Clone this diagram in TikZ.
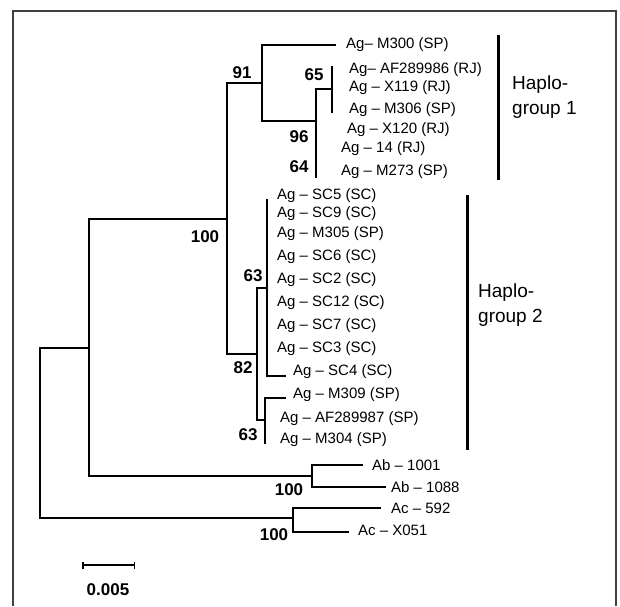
\documentclass[tikz,border=0pt]{standalone}
\usepackage{fontspec}
\setmainfont{Liberation Sans}
\usetikzlibrary{arrows.meta}
\begin{document}
\begin{tikzpicture}[x=1pt,y=-1pt,
  br/.style={line width=2.5pt,line cap=rect},
  leaf/.style={anchor=west,inner sep=0pt,font=\fontsize{15}{16}\selectfont},
  boot/.style={inner sep=0pt,font=\fontsize{17}{19}\selectfont\bfseries},
  grp/.style={anchor=west,inner sep=0pt,align=left,font=\fontsize{19}{25}\selectfont},
  bar/.style={line width=3pt},
  frame/.style={line width=2pt,draw=black!75}]
\useasboundingbox (0,0) rectangle (620,606);
\draw[frame] (13,606) -- (13,11) -- (616,11) -- (616,606);
% internal nodes
\coordinate (root) at (40,433);
\coordinate (nA) at (89,348);
\coordinate (nAg) at (227,219);
\coordinate (n91) at (262,83);
\coordinate (n96) at (316,121);
\coordinate (n65) at (332,89);
\coordinate (nH2) at (257,354);
\coordinate (n63a) at (267,288);
\coordinate (n63b) at (265,420);
\coordinate (nAb) at (312,476);
\coordinate (nAc) at (293,518);
% leaf ends
\coordinate (lM300) at (335,45);
\coordinate (lAF86) at (332,67);
\coordinate (lX119) at (332,89);
\coordinate (lM306) at (332,112);
\coordinate (lX120) at (316,130);
\coordinate (l14) at (316,152);
\coordinate (lM273) at (316,177);
\coordinate (lSC5) at (267,200);
\coordinate (lSC3) at (267,350);
\coordinate (lSC4) at (285,376);
\coordinate (lM309) at (285,398);
\coordinate (lAF87) at (265,419);
\coordinate (lM304) at (265,443);
\coordinate (lAb1) at (362,465);
\coordinate (lAb2) at (385,487);
\coordinate (lAc1) at (380,508);
\coordinate (lAc2) at (348,532);
% branches
\draw[br] (root) |- (nA);
\draw[br] (root) |- (nAc);
\draw[br] (nA) |- (nAg);
\draw[br] (nA) |- (nAb);
\draw[br] (nAg) |- (n91);
\draw[br] (nAg) |- (nH2);
\draw[br] (n91) |- (lM300);
\draw[br] (n91) |- (n96);
\draw[br] (n96) |- (n65);
\draw[br] (n96) |- (lX120);
\draw[br] (n96) |- (l14);
\draw[br] (n96) |- (lM273);
\draw[br] (n65) |- (lAF86);
\draw[br] (n65) |- (lX119);
\draw[br] (n65) |- (lM306);
\draw[br] (nH2) |- (n63a);
\draw[br] (nH2) |- (n63b);
\draw[br] (n63a) |- (lSC5);
\draw[br] (n63a) |- (lSC3);
\draw[br] (n63a) |- (lSC4);
\draw[br] (n63b) |- (lM309);
\draw[br] (n63b) |- (lAF87);
\draw[br] (n63b) |- (lM304);
\draw[br] (nAb) |- (lAb1);
\draw[br] (nAb) |- (lAb2);
\draw[br] (nAc) |- (lAc1);
\draw[br] (nAc) |- (lAc2);
% leaf labels
\node[leaf] (tM300) at (346,45) {Ag– M300 (SP)};
\node[leaf] (tAF86) at (349,70) {Ag– AF289986 (RJ)};
\node[leaf] (tX119) at (349,88) {Ag – X119 (RJ)};
\node[leaf] (tM306) at (349,110) {Ag – M306 (SP)};
\node[leaf] (tX120) at (347,130) {Ag – X120 (RJ)};
\node[leaf] (t14) at (341,149) {Ag – 14 (RJ)};
\node[leaf] (tM273) at (341,172) {Ag – M273 (SP)};
\node[leaf] (tSC5) at (277,196) {Ag – SC5 (SC)};
\node[leaf] (tSC9) at (277,214) {Ag – SC9 (SC)};
\node[leaf] (tM305) at (277,234) {Ag – M305 (SP)};
\node[leaf] (tSC6) at (277,257) {Ag – SC6 (SC)};
\node[leaf] (tSC2) at (277,280) {Ag – SC2 (SC)};
\node[leaf] (tSC12) at (277,303) {Ag – SC12 (SC)};
\node[leaf] (tSC7) at (277,326) {Ag – SC7 (SC)};
\node[leaf] (tSC3) at (277,349) {Ag – SC3 (SC)};
\node[leaf] (tSC4) at (293,372) {Ag – SC4 (SC)};
\node[leaf] (tM309) at (293,395) {Ag – M309 (SP)};
\node[leaf] (tAF87) at (280,419) {Ag – AF289987 (SP)};
\node[leaf] (tM304) at (280,440) {Ag – M304 (SP)};
\node[leaf] (tAb1) at (372,465) {Ab – 1001};
\node[leaf] (tAb2) at (391,487) {Ab – 1088};
\node[leaf] (tAc1) at (391,508) {Ac – 592};
\node[leaf] (tAc2) at (358,530) {Ac – X051};
% bootstrap values
\node[boot] (b91) at (242,73) {91};
\node[boot] (b65) at (314,75) {65};
\node[boot] (b96) at (299,137) {96};
\node[boot] (b64) at (299,167) {64};
\node[boot] (b100a) at (205,237) {100};
\node[boot] (b63a) at (253,276) {63};
\node[boot] (b82) at (243,368) {82};
\node[boot] (b63b) at (248,435) {63};
\node[boot] (b100b) at (289,490) {100};
\node[boot] (b100c) at (274,535) {100};
% haplogroups
\coordinate (g1t) at (498,35);
\coordinate (g1b) at (498,180);
\coordinate (g2t) at (467,195);
\coordinate (g2b) at (467,450);
\draw[bar] (g1t) -- (g1b);
\draw[bar] (g2t) -- (g2b);
\node[grp] (hg1) at (512,97) {Haplo-\\group 1};
\node[grp] (hg2) at (478,305) {Haplo-\\group 2};
% scale bar
\coordinate (s1) at (82,565);
\coordinate (s2) at (135,565);
\draw[line width=2pt,{Bar[width=7pt,line width=1.5pt]}-{Bar[width=7pt,line width=1.5pt]}] (s1) -- (s2);
\node[boot] (sc) at (108,590) {0.005};
\end{tikzpicture}
\end{document}
